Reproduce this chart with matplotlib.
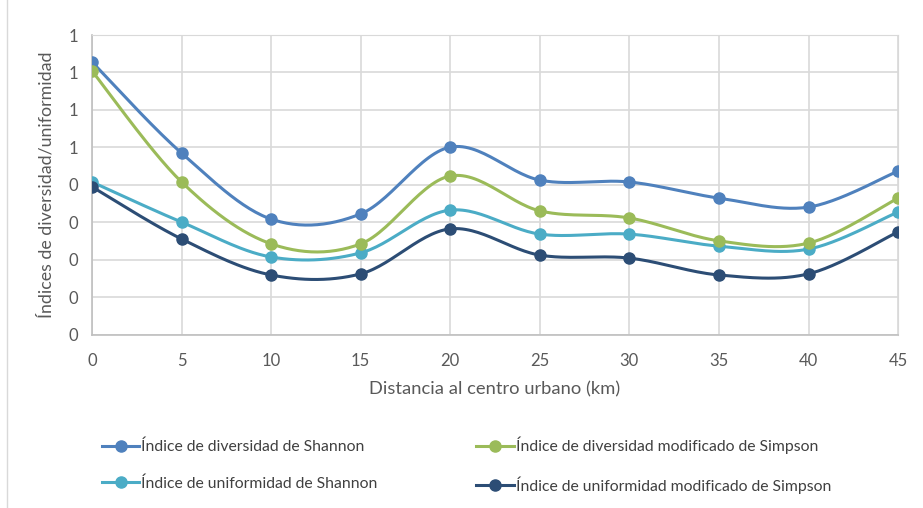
import numpy as np
import matplotlib.pyplot as plt

plt.rcParams['font.family'] = ['Lato', 'DejaVu Sans']

# Distance to urban centre (km)
distancia = [0, 5, 10, 15, 20, 25, 30, 35, 40, 45]

# Index values
div_shannon = [0.728, 0.485, 0.309, 0.323, 0.501, 0.413, 0.408, 0.365, 0.341, 0.437]
div_simpson = [0.704, 0.408, 0.243, 0.243, 0.424, 0.331, 0.312, 0.251, 0.245, 0.365]
unif_shannon = [0.408, 0.301, 0.208, 0.219, 0.333, 0.269, 0.269, 0.237, 0.229, 0.328]
unif_simpson = [0.395, 0.256, 0.160, 0.163, 0.283, 0.213, 0.205, 0.160, 0.163, 0.275]

y_ticks = [0, 0.1, 0.2, 0.3, 0.4, 0.5, 0.6, 0.7, 0.8]
y_tick_labels = ['0', '0', '0', '0', '0', '1', '1', '1', '1']

series = [
    ('Índice de diversidad de Shannon', div_shannon, '#4f81bd'),
    ('Índice de uniformidad de Shannon', unif_shannon, '#4bacc6'),
    ('Índice de diversidad modificado de Simpson', div_simpson, '#9bbb59'),
    ('Índice de uniformidad modificado de Simpson', unif_simpson, '#2c4d75'),
]


def smooth(x, y, n=30):
    # Catmull-Rom style smoothing, similar to Excel's smoothed lines
    x = np.asarray(x, float)
    y = np.asarray(y, float)
    px = np.concatenate([[x[0]], x, [x[-1]]])
    py = np.concatenate([[y[0]], y, [y[-1]]])
    xs, ys = [], []
    t = np.linspace(0, 1, n)
    for i in range(1, len(px) - 2):
        p0, p1, p2, p3 = (np.array([px[j], py[j]]) for j in range(i - 1, i + 3))
        c1 = p1 + (p2 - p0) / 6
        c2 = p2 - (p3 - p1) / 6
        b = ((1 - t) ** 3)[:, None] * p1 + (3 * (1 - t) ** 2 * t)[:, None] * c1 \
            + (3 * (1 - t) * t ** 2)[:, None] * c2 + (t ** 3)[:, None] * p2
        xs.extend(b[:, 0])
        ys.extend(b[:, 1])
    return xs, ys


fig = plt.figure(figsize=(9.23, 5.08), dpi=100)
ax = fig.add_axes([0.0997, 0.3406, 0.8733, 0.5905])

handles = []
for label, vals, color in series:
    sx, sy = smooth(distancia, vals)
    ax.plot(sx, sy, color=color, lw=2.2, zorder=3)
    ax.plot(distancia, vals, 'o', color=color, ms=8, zorder=4)
    h, = ax.plot([], [], '-o', color=color, lw=2.2, ms=8, label=label)
    handles.append(h)

ax.set_xlim(0, 45)
ax.set_ylim(0, 0.8)
ax.set_xticks(distancia)
ax.set_yticks(y_ticks)
ax.set_yticklabels(y_tick_labels)
ax.grid(True, color='#d9d9d9', lw=1.2)
ax.set_axisbelow(True)
for side in ['top', 'right']:
    ax.spines[side].set_color('#d9d9d9')
for side in ['left', 'bottom']:
    ax.spines[side].set_color('#bfbfbf')
    ax.spines[side].set_linewidth(1.2)
ax.tick_params(axis='y', length=0, labelsize=12, colors='#595959', pad=10)
ax.tick_params(axis='x', length=0, labelsize=12, colors='#595959', pad=13)

ax.set_xlabel('Distancia al centro urbano (km)', fontsize=13.2, color='#595959', labelpad=9)
ax.set_ylabel('Índices de diversidad/uniformidad', fontsize=12.8, color='#595959', labelpad=10)

fig.legend(handles=handles, ncol=2, loc='upper left', bbox_to_anchor=(0.095, 0.168),
           frameon=False, fontsize=11.3, labelcolor='#404040', handlelength=2.4,
           handletextpad=0.1, columnspacing=6.3, labelspacing=1.4)

# thin chart-area border on the left edge
fig.add_artist(plt.Line2D([0.008, 0.008], [0, 1], color='#d9d9d9', lw=1))

plt.savefig('out.png', dpi=100)
